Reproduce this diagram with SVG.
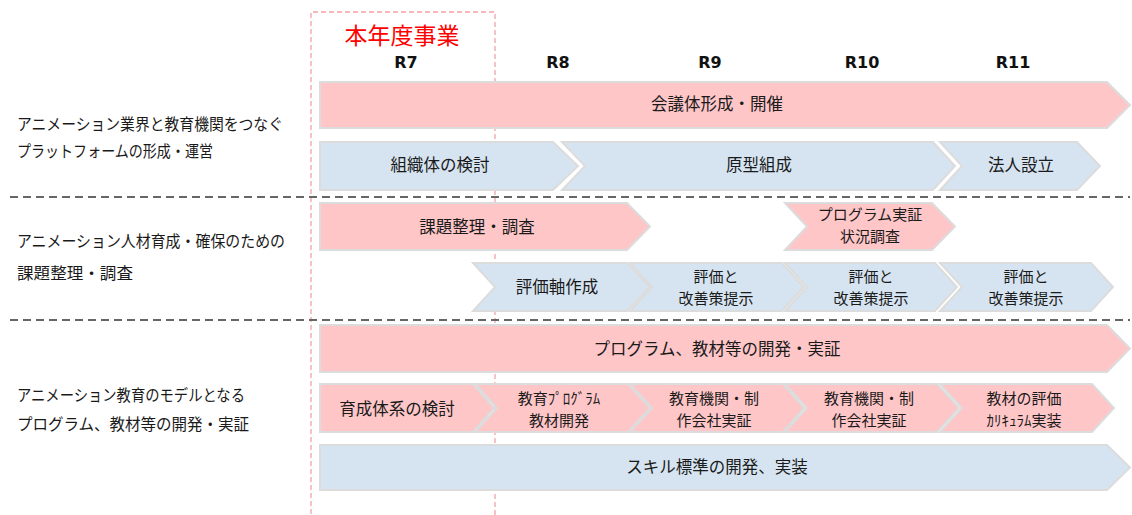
<svg xmlns="http://www.w3.org/2000/svg" width="1132" height="515" viewBox="0 0 1132 515">
<style>
.pk{fill:#FFC6C8;stroke:#DCDCDC;stroke-width:2;stroke-linejoin:miter}
.bl{fill:#D6E4F1;stroke:#DCDCDC;stroke-width:2;stroke-linejoin:miter}
.t{font-family:"Noto Sans CJK JP","Noto Sans",sans-serif;font-size:16.5px;fill:#1a1a1a;text-anchor:middle}
.t2{font-family:"Noto Sans CJK JP","Noto Sans",sans-serif;font-size:15px;fill:#1a1a1a;text-anchor:middle}
.lbl{font-family:"Noto Sans CJK JP","Noto Sans",sans-serif;font-size:16px;fill:#1a1a1a}
.yr{font-family:"DejaVu Sans",Verdana,sans-serif;font-weight:bold;font-size:16px;fill:#111;text-anchor:middle}
.sep{stroke:#666;stroke-width:2;stroke-dasharray:8 5;fill:none}
</style>
<rect width="1132" height="515" fill="#fff"/>
<g id="current-year">
<path d="M311,530 V12 H495 V530" fill="none" stroke="#F4A0A4" stroke-width="1.3" stroke-dasharray="5 3"/>
<text x="402" y="44" font-family="'Noto Sans CJK JP',sans-serif" font-size="23" fill="#FF0000" text-anchor="middle">本年度事業</text>
</g>
<g id="years">
<text class="yr" x="406" y="68">R7</text>
<text class="yr" x="558" y="68">R8</text>
<text class="yr" x="710" y="68">R9</text>
<text class="yr" x="862" y="68">R10</text>
<text class="yr" x="1013" y="68">R11</text>
</g>
<g id="separators">
<line class="sep" x1="10" y1="197" x2="1130" y2="197"/>
<line class="sep" x1="10" y1="320" x2="1130" y2="320"/>
</g>
<g id="labels">
<text class="lbl" x="17" y="130" textLength="266" lengthAdjust="spacingAndGlyphs">アニメーション業界と教育機関をつなぐ</text>
<text class="lbl" x="17" y="157" textLength="196" lengthAdjust="spacingAndGlyphs">プラットフォームの形成・運営</text>
<text class="lbl" x="17" y="247" textLength="268" lengthAdjust="spacingAndGlyphs">アニメーション人材育成・確保のための</text>
<text class="lbl" x="17" y="279" textLength="116" lengthAdjust="spacingAndGlyphs">課題整理・調査</text>
<text class="lbl" x="17" y="401" textLength="228" lengthAdjust="spacingAndGlyphs">アニメーション教育のモデルとなる</text>
<text class="lbl" x="17" y="430" textLength="232" lengthAdjust="spacingAndGlyphs">プログラム、教材等の開発・実証</text>
</g>
<g id="kaigi">
<polygon class="pk" points="320,82 1107,82 1130,105 1107,128 320,128"/>
<text class="t" x="717" y="110">会議体形成・開催</text>
</g>
<g id="soshiki">
<polygon class="bl" points="320,142 553,142 578,166 553,190 320,190"/>
<text class="t" x="440" y="171">組織体の検討</text>
</g>
<g id="genkei">
<polygon class="bl" points="562,142 933,142 955,166 933,190 562,190 585,166"/>
<text class="t" x="759" y="171">原型組成</text>
</g>
<g id="hojin">
<polygon class="bl" points="940,142 1077,142 1100,166 1077,190 940,190 962,166"/>
<text class="t" x="1021" y="171">法人設立</text>
</g>
<g id="kadai">
<polygon class="pk" points="320,203 627,203 650,226.5 627,250 320,250"/>
<text class="t" x="477" y="233">課題整理・調査</text>
</g>
<g id="program-jissho">
<polygon class="pk" points="785,203 932,203 955,226.5 932,250 785,250 807,226.5"/>
<text class="t2" x="870" y="220">プログラム実証</text>
<text class="t2" x="870" y="241.5">状況調査</text>
</g>
<g id="hyokajiku">
<polygon class="bl" points="473,263 627,263 650,287 627,311 473,311 495,287"/>
<text class="t" x="557" y="293">評価軸作成</text>
</g>
<g id="hyoka-r9">
<polygon class="bl" points="630,263 782,263 804,287 782,311 630,311 652,287"/>
<text class="t2" x="716" y="282">評価と</text>
<text class="t2" x="716" y="303.5">改善策提示</text>
</g>
<g id="hyoka-r10">
<polygon class="bl" points="785,263 935,263 957,287 935,311 785,311 807,287"/>
<text class="t2" x="871" y="282">評価と</text>
<text class="t2" x="871" y="303.5">改善策提示</text>
</g>
<g id="hyoka-r11">
<polygon class="bl" points="940,263 1091,263 1113,287 1091,311 940,311 962,287"/>
<text class="t2" x="1026" y="282">評価と</text>
<text class="t2" x="1026" y="303.5">改善策提示</text>
</g>
<g id="program-kaihatsu">
<polygon class="pk" points="320,325 1107,325 1130,348.5 1107,372 320,372"/>
<text class="t" x="717" y="355">プログラム、教材等の開発・実証</text>
</g>
<g id="ikusei">
<polygon class="pk" points="320,384 473,384 494,408 473,432 320,432"/>
<text class="t" x="397" y="415">育成体系の検討</text>
</g>
<g id="kyoiku-program">
<polygon class="pk" points="475,384 628,384 650,408 628,432 475,432 497,408"/>
<text class="t2" x="559" y="404">教育ﾌﾟﾛｸﾞﾗﾑ</text>
<text class="t2" x="559" y="425.5">教材開発</text>
</g>
<g id="kikan-r9">
<polygon class="pk" points="630,384 783,384 804,408 783,432 630,432 652,408"/>
<text class="t2" x="714" y="404">教育機関・制</text>
<text class="t2" x="714" y="425.5">作会社実証</text>
</g>
<g id="kikan-r10">
<polygon class="pk" points="785,384 937,384 959,408 937,432 785,432 807,408"/>
<text class="t2" x="869" y="404">教育機関・制</text>
<text class="t2" x="869" y="425.5">作会社実証</text>
</g>
<g id="kyozai-hyoka">
<polygon class="pk" points="940,384 1092,384 1114,408 1092,432 940,432 962,408"/>
<text class="t2" x="1024" y="404">教材の評価</text>
<text class="t2" x="1024" y="425.5">ｶﾘｷｭﾗﾑ実装</text>
</g>
<g id="skill">
<polygon class="bl" points="320,445 1107,445 1130,467.5 1107,490 320,490"/>
<text class="t" x="717" y="473">スキル標準の開発、実装</text>
</g>
<g id="connectors"></g>
</svg>
